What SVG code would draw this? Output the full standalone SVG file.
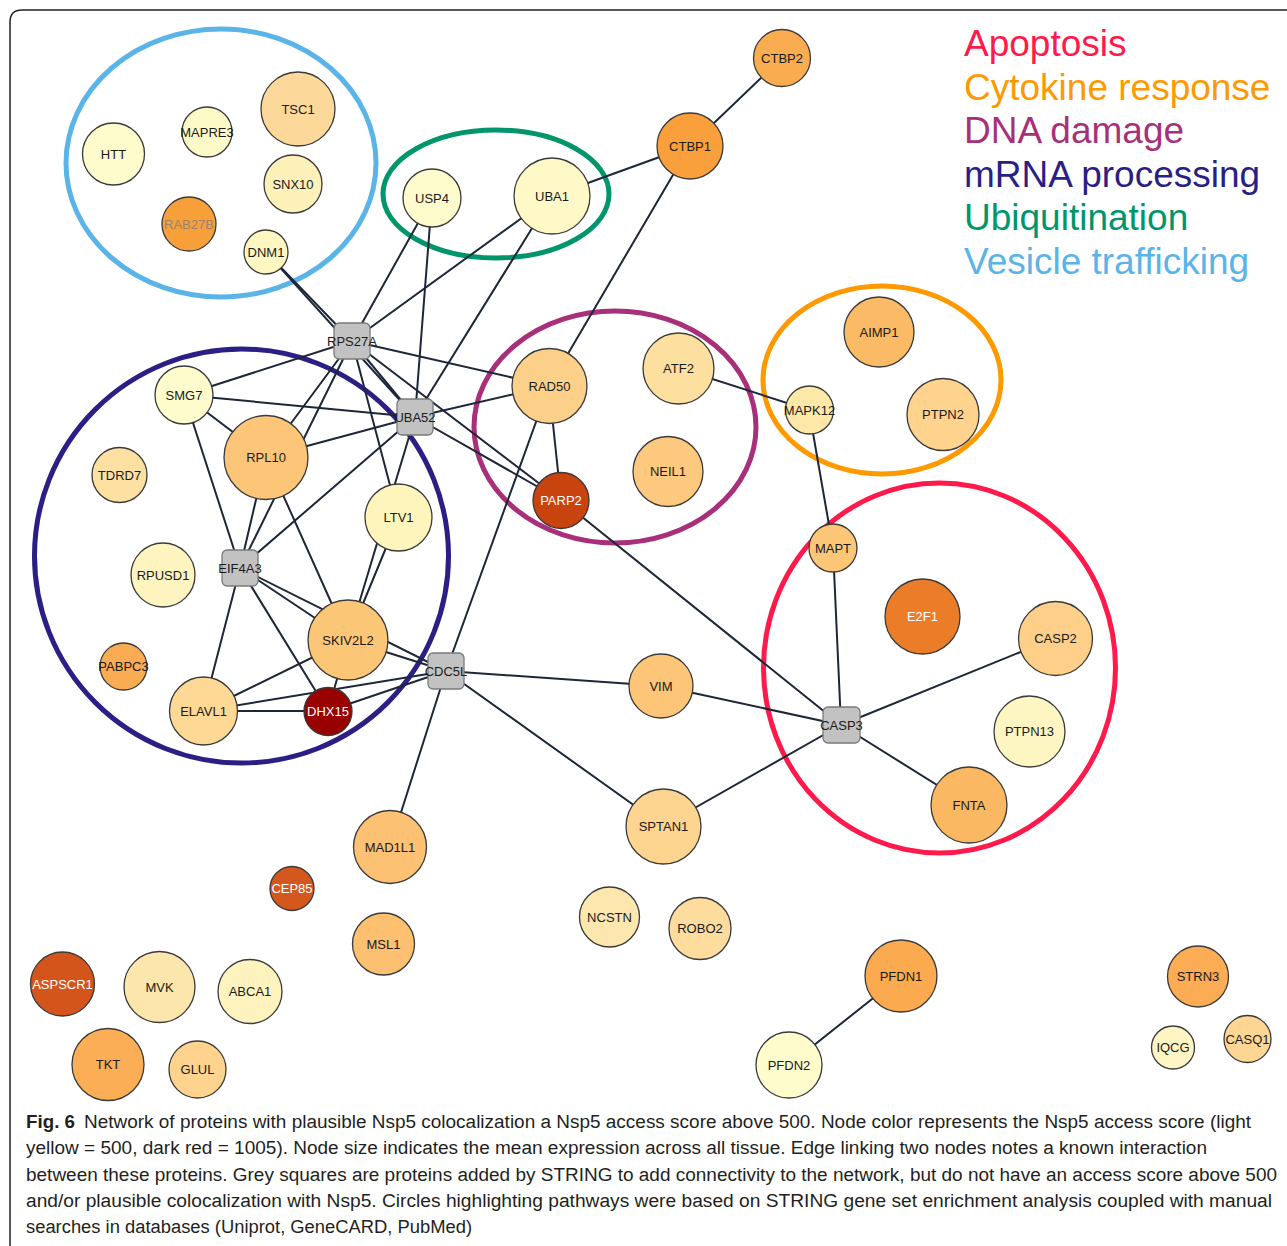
<svg xmlns="http://www.w3.org/2000/svg" width="1287" height="1246" viewBox="0 0 1287 1246">
<style>
.bg{fill:#ffffff}
.frame{fill:none;stroke:#222;stroke-width:1.5}
.e line{stroke:#1e2738;stroke-width:2;stroke-linecap:round}
.hl{fill:none;stroke-width:5}
.n circle{stroke:#3a3a3a;stroke-width:1.3}
.n rect{fill:#c2c2c2;stroke:#7a7a7a;stroke-width:1.3}
.n text{font-family:"Liberation Sans",Arial,sans-serif;font-size:13px;text-anchor:middle;fill:#1a1a1a}
.n text.w{fill:#ffffff}
.leg{font-family:"Liberation Sans",Arial,sans-serif;font-size:37px}
.cap{font-family:"Liberation Sans",Arial,sans-serif;font-size:18px;fill:#231f20}
</style>
<rect class="bg" x="0" y="0" width="1287" height="1246"/>
<path class="frame" d="M1287 10 H22 Q10 10 10 22 V1246"/>

<!-- pathway highlight ellipses -->
<g id="highlights">
<ellipse class="hl" cx="221" cy="163" rx="155" ry="134" stroke="#5ab4e8"/>
<ellipse class="hl" cx="496" cy="194" rx="113" ry="64" stroke="#00956a"/>
<ellipse class="hl" cx="615" cy="427" rx="141" ry="116" stroke="#a8307a"/>
<ellipse class="hl" cx="241.5" cy="556" rx="207" ry="207" stroke="#2b1f85"/>
<ellipse class="hl" cx="882" cy="380" rx="119" ry="94" stroke="#fe9a00"/>
<ellipse class="hl" cx="939.5" cy="668" rx="176" ry="185" stroke="#ff1a4b"/>
</g>

<g id="connectors" class="e">
<line x1="782" y1="58" x2="690" y2="146"/>
<line x1="690" y1="146" x2="552" y2="196"/>
<line x1="690" y1="146" x2="549" y2="386"/>
<line x1="266" y1="252" x2="352" y2="341"/>
<line x1="266" y1="252" x2="415" y2="417"/>
<line x1="432" y1="198" x2="352" y2="341"/>
<line x1="432" y1="198" x2="415" y2="417"/>
<line x1="552" y1="196" x2="352" y2="341"/>
<line x1="552" y1="196" x2="415" y2="417"/>
<line x1="352" y1="341" x2="184" y2="395"/>
<line x1="352" y1="341" x2="266" y2="457"/>
<line x1="352" y1="341" x2="240" y2="568"/>
<line x1="352" y1="341" x2="398.5" y2="517.5"/>
<line x1="352" y1="341" x2="415" y2="417"/>
<line x1="352" y1="341" x2="549" y2="386"/>
<line x1="352" y1="341" x2="561" y2="500"/>
<line x1="415" y1="417" x2="184" y2="395"/>
<line x1="415" y1="417" x2="266" y2="457"/>
<line x1="415" y1="417" x2="240" y2="568"/>
<line x1="415" y1="417" x2="348" y2="640"/>
<line x1="415" y1="417" x2="549" y2="386"/>
<line x1="415" y1="417" x2="561" y2="500"/>
<line x1="549" y1="386" x2="561" y2="500"/>
<line x1="549" y1="386" x2="446" y2="671"/>
<line x1="678" y1="368" x2="809" y2="410"/>
<line x1="809" y1="410" x2="833" y2="548"/>
<line x1="833" y1="548" x2="841" y2="725"/>
<line x1="841" y1="725" x2="1055" y2="638"/>
<line x1="841" y1="725" x2="969" y2="805"/>
<line x1="841" y1="725" x2="561" y2="500"/>
<line x1="841" y1="725" x2="661" y2="686"/>
<line x1="841" y1="725" x2="663" y2="826"/>
<line x1="446" y1="671" x2="661" y2="686"/>
<line x1="446" y1="671" x2="663" y2="826"/>
<line x1="446" y1="671" x2="390" y2="847"/>
<line x1="446" y1="671" x2="348" y2="640"/>
<line x1="446" y1="671" x2="240" y2="568"/>
<line x1="446" y1="671" x2="328" y2="711"/>
<line x1="446" y1="671" x2="203" y2="711"/>
<line x1="398.5" y1="517.5" x2="348" y2="640"/>
<line x1="348" y1="640" x2="266" y2="457"/>
<line x1="348" y1="640" x2="240" y2="568"/>
<line x1="348" y1="640" x2="203" y2="711"/>
<line x1="348" y1="640" x2="328" y2="711"/>
<line x1="240" y1="568" x2="184" y2="395"/>
<line x1="240" y1="568" x2="266" y2="457"/>
<line x1="240" y1="568" x2="203" y2="711"/>
<line x1="240" y1="568" x2="328" y2="711"/>
<line x1="184" y1="395" x2="266" y2="457"/>
<line x1="203" y1="711" x2="328" y2="711"/>
<line x1="901" y1="976" x2="789" y2="1065"/>
</g>

<g id="n-HTT" class="n"><circle cx="113.5" cy="154" r="31" fill="#fefbcc"/><text x="113.5" y="154" dy=".35em">HTT</text></g>
<g id="n-MAPRE3" class="n"><circle cx="207" cy="132" r="25" fill="#fefac8"/><text x="207" y="132" dy=".35em">MAPRE3</text></g>
<g id="n-TSC1" class="n"><circle cx="298" cy="109" r="37" fill="#fdd89b"/><text x="298" y="109" dy=".35em">TSC1</text></g>
<g id="n-SNX10" class="n"><circle cx="293" cy="184" r="29" fill="#fdf0b8"/><text x="293" y="184" dy=".35em">SNX10</text></g>
<g id="n-RAB27B" class="n"><circle cx="189" cy="224" r="27" fill="#f7a03a"/><text x="189" y="224" dy=".35em" fill="#9a8470" style="fill:#9a8470">RAB27B</text></g>
<g id="n-DNM1" class="n"><circle cx="266" cy="252" r="22" fill="#fef7c2"/><text x="266" y="252" dy=".35em">DNM1</text></g>
<g id="n-USP4" class="n"><circle cx="432" cy="198" r="29" fill="#fefbcc"/><text x="432" y="198" dy=".35em">USP4</text></g>
<g id="n-UBA1" class="n"><circle cx="552" cy="196" r="38" fill="#fef9c6"/><text x="552" y="196" dy=".35em">UBA1</text></g>
<g id="n-CTBP1" class="n"><circle cx="690" cy="146" r="33" fill="#f9a03c"/><text x="690" y="146" dy=".35em">CTBP1</text></g>
<g id="n-CTBP2" class="n"><circle cx="782" cy="58" r="28.5" fill="#f9ac50"/><text x="782" y="58" dy=".35em">CTBP2</text></g>
<g id="n-RPS27A" class="n"><rect x="334" y="323" width="36" height="36" rx="5"/><text x="352" y="341" dy=".35em">RPS27A</text></g>
<g id="n-UBA52" class="n"><rect x="397" y="399" width="36" height="36" rx="5"/><text x="415" y="417" dy=".35em">UBA52</text></g>
<g id="n-RAD50" class="n"><circle cx="549.5" cy="386" r="37.5" fill="#fdd08a"/><text x="549.5" y="386" dy=".35em">RAD50</text></g>
<g id="n-ATF2" class="n"><circle cx="678.5" cy="368.5" r="35.5" fill="#fddf9f"/><text x="678.5" y="368.5" dy=".35em">ATF2</text></g>
<g id="n-NEIL1" class="n"><circle cx="668" cy="471.5" r="35" fill="#fdc97e"/><text x="668" y="471.5" dy=".35em">NEIL1</text></g>
<g id="n-PARP2" class="n"><circle cx="561" cy="500.5" r="28" fill="#c8430e"/><text class="w" x="561" y="500.5" dy=".35em">PARP2</text></g>
<g id="n-AIMP1" class="n"><circle cx="879" cy="332" r="35" fill="#fbba66"/><text x="879" y="332" dy=".35em">AIMP1</text></g>
<g id="n-MAPK12" class="n"><circle cx="809.5" cy="410" r="24" fill="#fde8a8"/><text x="809.5" y="410" dy=".35em">MAPK12</text></g>
<g id="n-PTPN2" class="n"><circle cx="943" cy="414.5" r="36" fill="#fdd38e"/><text x="943" y="414.5" dy=".35em">PTPN2</text></g>
<g id="n-MAPT" class="n"><circle cx="833" cy="548" r="24" fill="#fcc677"/><text x="833" y="548" dy=".35em">MAPT</text></g>
<g id="n-E2F1" class="n"><circle cx="922.5" cy="616.5" r="37.5" fill="#eb7d29"/><text class="w" x="922.5" y="616.5" dy=".35em">E2F1</text></g>
<g id="n-CASP2" class="n"><circle cx="1055.5" cy="638.5" r="37" fill="#fdcf88"/><text x="1055.5" y="638.5" dy=".35em">CASP2</text></g>
<g id="n-CASP3" class="n"><rect x="823" y="707" width="37" height="36" rx="5"/><text x="841.5" y="725" dy=".35em">CASP3</text></g>
<g id="n-PTPN13" class="n"><circle cx="1029.5" cy="731.5" r="35.5" fill="#fef6c2"/><text x="1029.5" y="731.5" dy=".35em">PTPN13</text></g>
<g id="n-FNTA" class="n"><circle cx="969" cy="805" r="38" fill="#fbb862"/><text x="969" y="805" dy=".35em">FNTA</text></g>
<g id="n-SMG7" class="n"><circle cx="184" cy="395" r="29" fill="#fefbcc"/><text x="184" y="395" dy=".35em">SMG7</text></g>
<g id="n-RPL10" class="n"><circle cx="266" cy="457.5" r="42" fill="#fcc578"/><text x="266" y="457.5" dy=".35em">RPL10</text></g>
<g id="n-TDRD7" class="n"><circle cx="119.5" cy="475" r="27.5" fill="#fde0a2"/><text x="119.5" y="475" dy=".35em">TDRD7</text></g>
<g id="n-LTV1" class="n"><circle cx="398.5" cy="517.5" r="33.5" fill="#fef5bd"/><text x="398.5" y="517.5" dy=".35em">LTV1</text></g>
<g id="n-RPUSD1" class="n"><circle cx="163" cy="575" r="32" fill="#fef4c0"/><text x="163" y="575" dy=".35em">RPUSD1</text></g>
<g id="n-EIF4A3" class="n"><rect x="222" y="550" width="36" height="36" rx="5"/><text x="240" y="568" dy=".35em">EIF4A3</text></g>
<g id="n-SKIV2L2" class="n"><circle cx="348" cy="640" r="40" fill="#fcc677"/><text x="348" y="640" dy=".35em">SKIV2L2</text></g>
<g id="n-PABPC3" class="n"><circle cx="123.5" cy="666.5" r="23.5" fill="#f9ac54"/><text x="123.5" y="666.5" dy=".35em">PABPC3</text></g>
<g id="n-ELAVL1" class="n"><circle cx="203.5" cy="711" r="34" fill="#fdd995"/><text x="203.5" y="711" dy=".35em">ELAVL1</text></g>
<g id="n-DHX15" class="n"><circle cx="328" cy="711.5" r="24" fill="#990000"/><text class="w" x="328" y="711.5" dy=".35em">DHX15</text></g>
<g id="n-CDC5L" class="n"><rect x="428" y="653" width="36" height="36" rx="5"/><text x="446" y="671" dy=".35em">CDC5L</text></g>
<g id="n-VIM" class="n"><circle cx="661" cy="686" r="32" fill="#fcc577"/><text x="661" y="686" dy=".35em">VIM</text></g>
<g id="n-SPTAN1" class="n"><circle cx="663.5" cy="826.5" r="37.5" fill="#fdd490"/><text x="663.5" y="826.5" dy=".35em">SPTAN1</text></g>
<g id="n-MAD1L1" class="n"><circle cx="390" cy="847" r="36.5" fill="#fcc173"/><text x="390" y="847" dy=".35em">MAD1L1</text></g>
<g id="n-CEP85" class="n"><circle cx="292" cy="888.5" r="22" fill="#d4581e"/><text class="w" x="292" y="888.5" dy=".35em">CEP85</text></g>
<g id="n-MSL1" class="n"><circle cx="383.5" cy="944" r="31" fill="#fcc070"/><text x="383.5" y="944" dy=".35em">MSL1</text></g>
<g id="n-NCSTN" class="n"><circle cx="609.5" cy="917" r="30" fill="#fde7ae"/><text x="609.5" y="917" dy=".35em">NCSTN</text></g>
<g id="n-ROBO2" class="n"><circle cx="700" cy="928.5" r="31" fill="#fddc9e"/><text x="700" y="928.5" dy=".35em">ROBO2</text></g>
<g id="n-ASPSCR1" class="n"><circle cx="62.5" cy="984" r="32" fill="#d4551c"/><text class="w" x="62.5" y="984" dy=".35em">ASPSCR1</text></g>
<g id="n-MVK" class="n"><circle cx="159.5" cy="987" r="35.5" fill="#fde6ac"/><text x="159.5" y="987" dy=".35em">MVK</text></g>
<g id="n-ABCA1" class="n"><circle cx="250" cy="991.5" r="32" fill="#fef3be"/><text x="250" y="991.5" dy=".35em">ABCA1</text></g>
<g id="n-TKT" class="n"><circle cx="108" cy="1064.5" r="36" fill="#fbae55"/><text x="108" y="1064.5" dy=".35em">TKT</text></g>
<g id="n-GLUL" class="n"><circle cx="197.5" cy="1069.5" r="28.5" fill="#fdd38e"/><text x="197.5" y="1069.5" dy=".35em">GLUL</text></g>
<g id="n-PFDN1" class="n"><circle cx="901" cy="976" r="36" fill="#fbaa50"/><text x="901" y="976" dy=".35em">PFDN1</text></g>
<g id="n-PFDN2" class="n"><circle cx="789" cy="1065" r="33" fill="#fefbcc"/><text x="789" y="1065" dy=".35em">PFDN2</text></g>
<g id="n-STRN3" class="n"><circle cx="1198" cy="976.5" r="30.5" fill="#fbac55"/><text x="1198" y="976.5" dy=".35em">STRN3</text></g>
<g id="n-IQCG" class="n"><circle cx="1173" cy="1047.5" r="21.5" fill="#fef5c4"/><text x="1173" y="1047.5" dy=".35em">IQCG</text></g>
<g id="n-CASQ1" class="n"><circle cx="1247.5" cy="1039" r="23.5" fill="#fdd694"/><text x="1247.5" y="1039" dy=".35em">CASQ1</text></g>

<g id="legend" class="leg">
<text x="964" y="56" fill="#ff1a4b">Apoptosis</text>
<text x="964" y="99.5" fill="#fe9a00">Cytokine response</text>
<text x="964" y="143" fill="#a8307a">DNA damage</text>
<text x="964" y="186.5" fill="#2b1f85">mRNA processing</text>
<text x="964" y="230" fill="#00956a">Ubiquitination</text>
<text x="964" y="273.5" fill="#5ab4e8">Vesicle trafficking</text>
</g>

<g id="caption" class="cap">
<text x="26" y="1128" font-weight="bold" textLength="49" lengthAdjust="spacingAndGlyphs">Fig. 6</text>
<text x="84" y="1128" textLength="1167" lengthAdjust="spacingAndGlyphs">Network of proteins with plausible Nsp5 colocalization a Nsp5 access score above 500. Node color represents the Nsp5 access score (light</text>
<text x="26" y="1154" textLength="1181" lengthAdjust="spacingAndGlyphs">yellow = 500, dark red = 1005). Node size indicates the mean expression across all tissue. Edge linking two nodes notes a known interaction</text>
<text x="26" y="1181" textLength="1251" lengthAdjust="spacingAndGlyphs">between these proteins. Grey squares are proteins added by STRING to add connectivity to the network, but do not have an access score above 500</text>
<text x="26" y="1207" textLength="1246" lengthAdjust="spacingAndGlyphs">and/or plausible colocalization with Nsp5. Circles highlighting pathways were based on STRING gene set enrichment analysis coupled with manual</text>
<text x="26" y="1233" textLength="446" lengthAdjust="spacingAndGlyphs">searches in databases (Uniprot, GeneCARD, PubMed)</text>
</g>
</svg>
